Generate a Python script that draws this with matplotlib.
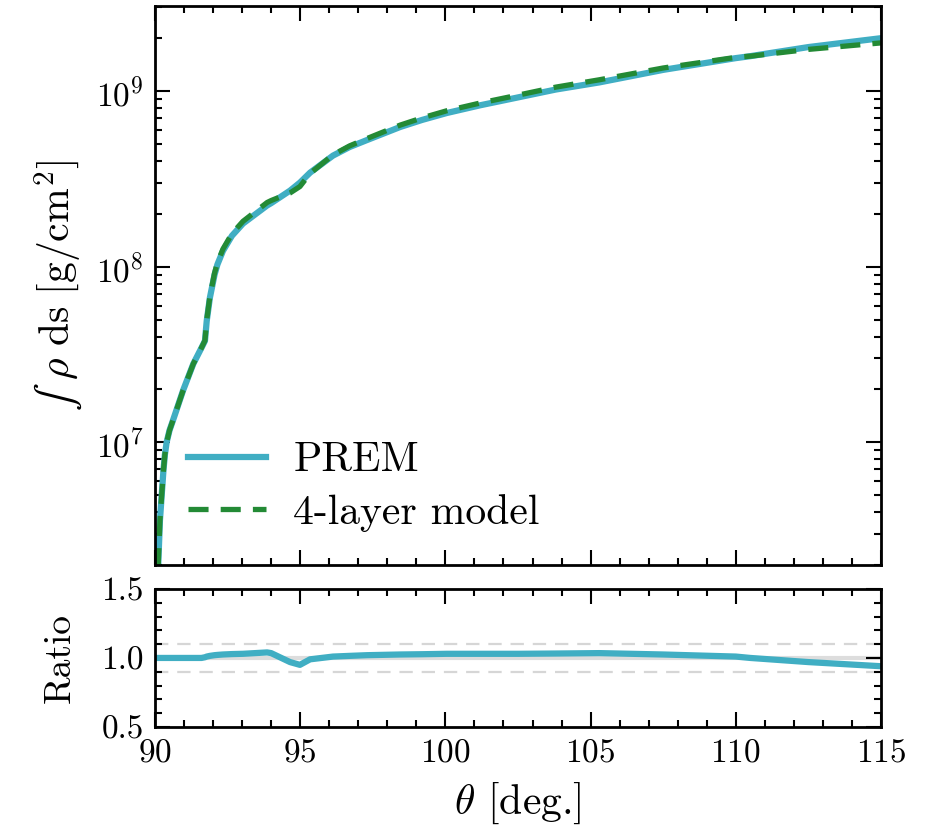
import matplotlib
matplotlib.use("Agg")
import matplotlib.pyplot as plt
import numpy as np
from matplotlib.ticker import MultipleLocator, LogLocator, NullFormatter, FormatStrFormatter

plt.rcParams['font.family'] = 'cmr10'
plt.rcParams['mathtext.fontset'] = 'cm'
plt.rcParams['axes.formatter.use_mathtext'] = True

# zenith angle grid [deg]
theta = np.array([90.0, 90.11, 90.17, 90.29, 90.34, 90.40, 90.5, 90.63, 90.97, 91.32,
                  91.6, 91.72, 91.78, 91.89, 92.05, 92.15, 92.34, 92.65, 93.03, 93.86,
                  94.0, 94.65, 94.99, 95.34, 96.13, 96.7, 97.3, 98.44, 99.2,
                  100.05, 101.2, 102.5, 103.8, 105.3, 107.5, 110.0, 110.5,
                  112.5, 115.0])

# column depth for PREM [g/cm^2]
prem = np.array([1e5, 2.0e6, 3.6e6, 6.9e6, 8.5e6, 1.0e7, 1.17e7, 1.35e7, 1.98e7, 2.8e7,
                 3.45e7, 3.78e7, 4.9e7, 6.66e7, 9.0e7, 1.03e8, 1.23e8, 1.5e8, 1.76e8, 2.23e8,
                 2.3e8, 2.71e8, 3.01e8, 3.43e8, 4.29e8, 4.8e8, 5.26e8, 6.24e8, 6.85e8,
                 7.5e8, 8.3e8, 9.2e8, 1.02e9, 1.12e9, 1.32e9, 1.54e9, 1.58e9,
                 1.78e9, 2.0e9])

# ratio 4-layer / PREM
ratio = np.array([1.0, 1.0, 1.0, 1.0, 1.0, 1.0, 1.0, 1.0, 1.0, 1.0,
                  1.0, 1.005, 1.01, 1.015, 1.02, 1.022, 1.025, 1.028, 1.03, 1.04,
                  1.035, 0.97, 0.95, 0.99, 1.01, 1.015, 1.02, 1.025, 1.027,
                  1.03, 1.03, 1.03, 1.032, 1.035, 1.025, 1.01, 1.0,
                  0.97, 0.94])

four_layer = prem * ratio

c_prem = '#40aec3'
c_four = '#238a35'

fig = plt.figure(figsize=(9.26, 8.33), dpi=100)
ax1 = fig.add_axes([0.1674, 0.3217, 0.784, 0.6711])
ax2 = fig.add_axes([0.1674, 0.1273, 0.784, 0.1657])

ax1.plot(theta, prem, color=c_prem, lw=4.5, label='PREM')
ax1.plot(theta, four_layer, color=c_four, lw=3.8, dashes=(3.8, 2.3), label='4-layer model')
ax1.set_yscale('log')
ax1.set_xlim(90, 115)
ax1.set_ylim(2e6, 3.05e9)
ax1.set_ylabel('$\u222b\\ \\rho\\ \\mathrm{ds}\\ [\\mathrm{g/cm}^2]$', fontsize=30, labelpad=8)
ax1.yaxis.set_major_locator(LogLocator(base=10, numticks=10))
ax1.yaxis.set_minor_locator(LogLocator(base=10, subs=np.arange(2, 10), numticks=20))
ax1.yaxis.set_minor_formatter(NullFormatter())
ax1.tick_params(axis='x', labelbottom=False)
ax1.legend(loc='lower left', bbox_to_anchor=(0, 0.0), frameon=False, fontsize=30,
           handlelength=1.87, handletextpad=0.65, labelspacing=0.35,
           borderaxespad=0.4)

ax2.axhline(1.0, color='#dddddd', lw=3, zorder=1)
ax2.axhline(1.1, color='#d6d6d6', lw=1.6, dashes=(6, 4), zorder=1)
ax2.axhline(0.9, color='#d6d6d6', lw=1.6, dashes=(6, 4), zorder=1)
ax2.plot(theta, ratio, color=c_prem, lw=4.5, zorder=2)
ax2.set_xlim(90, 115)
ax2.set_ylim(0.5, 1.5)
ax2.set_ylabel('Ratio', fontsize=27, labelpad=18)
ax2.set_xlabel(r'$\theta$ [deg.]', fontsize=30, labelpad=10)
ax2.yaxis.set_major_locator(MultipleLocator(0.5))
ax2.yaxis.set_minor_locator(MultipleLocator(0.1))
ax2.yaxis.set_major_formatter(FormatStrFormatter('%.1f'))

for ax in (ax1, ax2):
    ax.xaxis.set_major_locator(MultipleLocator(5))
    ax.xaxis.set_minor_locator(MultipleLocator(1))
    ax.tick_params(which='both', direction='in', top=True, right=True, width=1.5)
    ax.tick_params(which='major', length=11, labelsize=24, pad=8)
    ax.tick_params(which='minor', length=5)
    for s in ax.spines.values():
        s.set_linewidth(2)

fig.savefig('out.png', dpi=100)
